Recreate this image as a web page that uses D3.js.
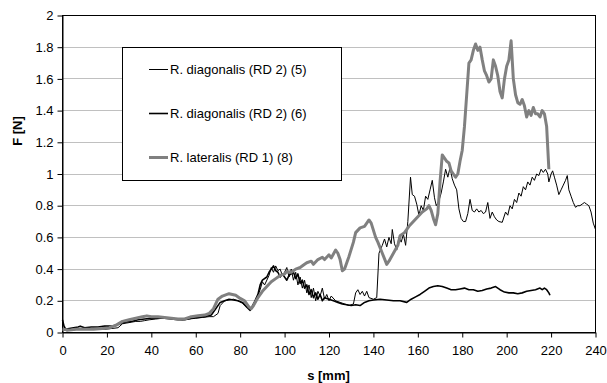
<!DOCTYPE html>
<html>
<head>
<meta charset="utf-8">
<script src="https://cdn.jsdelivr.net/npm/d3@7"></script>
<style>
  body { margin: 0; background: #fff; }
  svg { display: block; font-family: 'Liberation Sans', Arial, sans-serif; }
</style>
</head>
<body>
<svg id="chart" width="607" height="383"></svg>
<script>
// series names as in the legend
const seriesNames = ['R. diagonalis (RD 2) (5)', 'R. diagonalis (RD 2) (6)', 'R. lateralis (RD 1) (8)'];

// [s mm, F N]
const rd2s5 = [[0,0.02],[2,0.01],[4,0.015],[7,0.02],[10,0.02],[13,0.02],[16,0.025],[19,0.02],[22,0.025],[25,0.03],[27,0.055],[29,0.06],[31,0.065],[33,0.07],[35,0.07],[37,0.075],[39,0.08],[42,0.085],[45,0.09],[48,0.09],[51,0.085],[54,0.08],[57,0.085],[60,0.09],[63,0.095],[66,0.1],[68,0.1],[70,0.12],[71,0.17],[73,0.2],[75,0.205],[77,0.21],[79,0.2],[81,0.185],[83,0.16],[85,0.15],[87,0.2],[89,0.27],[90,0.32],[91,0.3],[93,0.36],[94,0.41],[95,0.38],[96,0.42],[97,0.39],[98,0.4],[99,0.36],[100,0.38],[101,0.41],[102,0.35],[103,0.4],[104,0.33],[105,0.38],[106,0.3],[107,0.35],[108,0.28],[109,0.33],[110,0.25],[111,0.3],[112,0.22],[113,0.28],[114,0.2],[115,0.26],[116,0.23],[117,0.28],[118,0.21],[119,0.24],[120,0.2],[121,0.23],[123,0.2],[125,0.19],[127,0.18],[129,0.17],[131,0.18],[132,0.25],[133,0.27],[134,0.24],[135,0.26],[136,0.23],[137,0.26],[138,0.22],[140,0.21],[141.5,0.22],[142.5,0.5],[144,0.55],[145,0.59],[146,0.54],[147,0.6],[148,0.56],[148.5,0.65],[149.5,0.56],[150.5,0.52],[151.5,0.6],[152.5,0.57],[153.5,0.62],[154.5,0.55],[155.5,0.7],[156.7,0.98],[157.5,0.87],[158.5,0.86],[159.5,0.81],[160.5,0.74],[161.5,0.8],[162.5,0.77],[163.5,0.86],[164.5,0.84],[165.5,0.9],[166.5,0.96],[167.5,0.85],[168.3,0.8],[169.5,0.83],[170.5,0.88],[171.5,0.95],[172.5,1.03],[173.5,0.98],[174.5,1.04],[175.5,0.97],[176.5,0.93],[177.5,0.9],[178.5,0.78],[179.5,0.72],[180.5,0.7],[181.5,0.7],[182.5,0.75],[183.5,0.84],[184.5,0.77],[185.5,0.76],[186.5,0.78],[187.5,0.76],[188.5,0.77],[189.5,0.75],[190.5,0.76],[191.5,0.82],[192.5,0.72],[193.5,0.76],[194.5,0.73],[195.5,0.71],[196.5,0.7],[198,0.695],[199.5,0.76],[200.5,0.74],[201.5,0.8],[202.5,0.78],[203.5,0.84],[204.5,0.82],[205.5,0.88],[206.5,0.86],[207.5,0.92],[208.5,0.9],[209.5,0.95],[210.5,0.93],[211.5,0.98],[212.5,0.96],[213.5,1.0],[214.5,0.99],[215.5,1.03],[216.5,1.01],[217.5,1.03],[218.5,1.0],[219,0.95],[220,1.0],[220.7,1.02],[221.5,0.98],[222.5,0.93],[223.5,0.87],[224.5,0.9],[225.5,0.93],[226.5,0.96],[227.3,0.99],[228,0.9],[229,0.86],[230,0.82],[231,0.79],[232,0.8],[233,0.8],[234,0.81],[235,0.82],[236,0.81],[237,0.8],[238,0.76],[239,0.69],[240,0.65]];

const rd2s6 = [[0,0.08],[0.7,0.04],[1.5,0.02],[3,0.025],[5,0.03],[7,0.035],[8,0.04],[10,0.03],[13,0.035],[16,0.035],[19,0.04],[22,0.04],[25,0.05],[28,0.065],[31,0.07],[34,0.08],[37,0.085],[40,0.09],[43,0.09],[46,0.09],[49,0.085],[52,0.08],[55,0.08],[58,0.09],[61,0.095],[64,0.1],[67,0.11],[69,0.15],[71,0.19],[73,0.2],[75,0.21],[77,0.205],[79,0.2],[81,0.19],[83,0.16],[84.5,0.14],[86,0.18],[88,0.24],[89,0.3],[90,0.33],[92,0.35],[93,0.38],[95,0.42],[96,0.39],[97,0.38],[98,0.35],[99,0.37],[101,0.33],[102,0.36],[104,0.38],[105,0.34],[106,0.37],[107,0.31],[108,0.33],[109,0.28],[110,0.3],[111,0.24],[112,0.27],[113,0.22],[114,0.25],[115,0.21],[116,0.24],[117,0.2],[118,0.22],[120,0.21],[122,0.2],[124,0.19],[126,0.18],[128,0.175],[130,0.17],[132,0.175],[134,0.17],[136,0.19],[138,0.2],[140,0.205],[143,0.21],[146,0.205],[149,0.2],[152,0.2],[155,0.19],[157,0.21],[159,0.225],[161,0.24],[163,0.26],[165,0.28],[167,0.29],[169,0.295],[171,0.29],[173,0.28],[175,0.27],[177,0.27],[179,0.275],[181,0.28],[183,0.27],[185,0.27],[187,0.26],[189,0.265],[191,0.275],[193,0.28],[195,0.29],[197,0.27],[199,0.255],[201,0.25],[203,0.25],[205,0.245],[207,0.25],[209,0.26],[211,0.265],[213,0.27],[215,0.28],[216,0.27],[217,0.28],[218,0.27],[219,0.25],[219.5,0.235]];

const rd1s8 = [[0,0.02],[3,0.015],[6,0.02],[10,0.02],[14,0.02],[18,0.025],[21,0.03],[24,0.045],[27,0.07],[30,0.08],[33,0.09],[36,0.1],[38,0.105],[40,0.1],[43,0.1],[46,0.095],[49,0.09],[52,0.085],[55,0.085],[58,0.1],[61,0.105],[64,0.11],[66,0.12],[68,0.15],[70,0.21],[72,0.23],[75,0.245],[78,0.235],[80,0.215],[82,0.2],[84,0.16],[85,0.15],[86,0.17],[88,0.22],[90,0.26],[92,0.29],[94,0.32],[96,0.34],[98,0.36],[100,0.37],[101,0.385],[103,0.38],[105,0.4],[107,0.41],[109,0.43],[110,0.44],[112,0.45],[113,0.43],[115,0.46],[117,0.475],[118,0.46],[120,0.49],[121,0.47],[123,0.52],[124,0.5],[125,0.46],[126,0.39],[127,0.4],[129,0.48],[131,0.57],[132,0.63],[134,0.66],[136,0.67],[138,0.71],[139,0.69],[141,0.6],[142,0.57],[144,0.5],[146,0.43],[147,0.45],[149,0.5],[151,0.55],[152,0.61],[154,0.63],[156,0.67],[158,0.7],[160,0.73],[162,0.76],[164,0.78],[165,0.8],[166,0.77],[167,0.72],[168,0.68],[169,0.75],[170,0.95],[171,1.12],[172,1.1],[173,1.08],[174,1.07],[175,1.02],[176,1.0],[177,0.98],[178,1.0],[179,1.08],[180,1.15],[181,1.3],[182,1.5],[183,1.7],[184,1.72],[185,1.78],[186,1.82],[187,1.78],[188,1.8],[189,1.72],[190,1.65],[191,1.62],[192,1.58],[193,1.6],[194,1.72],[195,1.68],[196,1.62],[197,1.52],[198,1.48],[199,1.6],[200,1.68],[201,1.72],[202,1.84],[203,1.6],[204,1.5],[205,1.45],[206,1.44],[207,1.47],[208,1.43],[209,1.36],[210,1.4],[211,1.37],[212,1.42],[213,1.38],[214,1.38],[215,1.36],[216,1.4],[217,1.38],[218,1.3],[219,1.03]];

const xTicks = [0, 20, 40, 60, 80, 100, 120, 140, 160, 180, 200, 220, 240];
const yTicks = [0, 0.2, 0.4, 0.6, 0.8, 1, 1.2, 1.4, 1.6, 1.8, 2];

const margin = { top: 15, right: 12, bottom: 51, left: 62 };
const width = 607 - margin.left - margin.right;
const height = 383 - margin.top - margin.bottom;

const svg = d3.select('#chart');
const g = svg.append('g')
    .attr('transform', `translate(${margin.left + 0.5},${margin.top + 0.5})`);

const x = d3.scaleLinear().domain([0, 240]).range([0, width]);
const y = d3.scaleLinear().domain([0, 2]).range([height, 0]);

// gridlines
g.append('g')
    .selectAll('line')
    .data(yTicks.filter(d => d > 0 && d < 2))
    .enter()
    .append('line')
        .attr('x1', 0)
        .attr('x2', width)
        .attr('y1', d => Math.round(y(d)))
        .attr('y2', d => Math.round(y(d)))
        .attr('stroke', '#c0c0c0')
        .attr('stroke-width', 1);

// frame
g.append('rect')
    .attr('x', 0)
    .attr('y', 0)
    .attr('width', width)
    .attr('height', height)
    .attr('fill', 'none')
    .attr('stroke', '#000')
    .attr('stroke-width', 1);

// axes
const xAxis = g.append('g')
    .attr('transform', `translate(0,${height})`)
    .call(d3.axisBottom(x).tickValues(xTicks).tickSize(5).tickSizeOuter(0).tickPadding(8));
const yAxis = g.append('g')
    .call(d3.axisLeft(y).tickValues(yTicks).tickFormat(d3.format('~g')).tickSize(5).tickSizeOuter(0).tickPadding(4));

[xAxis, yAxis].forEach(a => {
    a.select('.domain').attr('stroke', '#000');
    a.selectAll('.tick line').attr('stroke', '#000');
    a.selectAll('.tick text')
        .attr('fill', '#000')
        .style('font-size', '13px')
        .style('font-family', '\'Liberation Sans\', Arial, sans-serif');
});

// lines
const line = d3.line()
    .x(d => x(d[0]))
    .y(d => y(d[1]));

const styles = [
    { data: rd2s5, color: '#000', w: 1 },
    { data: rd2s6, color: '#000', w: 1.6 },
    { data: rd1s8, color: '#808080', w: 3 }
];

g.append('g')
    .attr('class', 'series')
    .selectAll('path')
    .data(styles)
    .enter()
    .append('path')
        .attr('d', d => line(d.data))
        .attr('fill', 'none')
        .attr('stroke', d => d.color)
        .attr('stroke-width', d => d.w)
        .attr('stroke-linejoin', 'round');

// legend
const legend = svg.append('g')
    .attr('transform', 'translate(122,47)');

legend.append('rect')
    .attr('x', 0.5)
    .attr('y', 0.5)
    .attr('width', 219)
    .attr('height', 133)
    .attr('fill', '#fff')
    .attr('stroke', '#000');

const items = legend.selectAll('g.item')
    .data(styles)
    .enter()
    .append('g')
        .attr('class', 'item')
        .attr('transform', (d, i) => `translate(0,${22.5 + i * 44})`);

items.append('line')
    .attr('x1', 27)
    .attr('x2', 46)
    .attr('stroke', d => d.color)
    .attr('stroke-width', d => d.w);

items.append('text')
    .attr('x', 48)
    .attr('dy', '0.35em')
    .style('font-size', '13px')
    .text((d, i) => seriesNames[i]);

// axis titles
svg.append('text')
    .attr('x', margin.left + width / 2)
    .attr('y', 380)
    .attr('text-anchor', 'middle')
    .style('font-size', '13px')
    .style('font-weight', 'bold')
    .text('s [mm]');

svg.append('text')
    .attr('transform', 'translate(22,131) rotate(-90)')
    .attr('text-anchor', 'middle')
    .style('font-size', '13px')
    .style('font-weight', 'bold')
    .text('F [N]');
</script>
</body>
</html>
